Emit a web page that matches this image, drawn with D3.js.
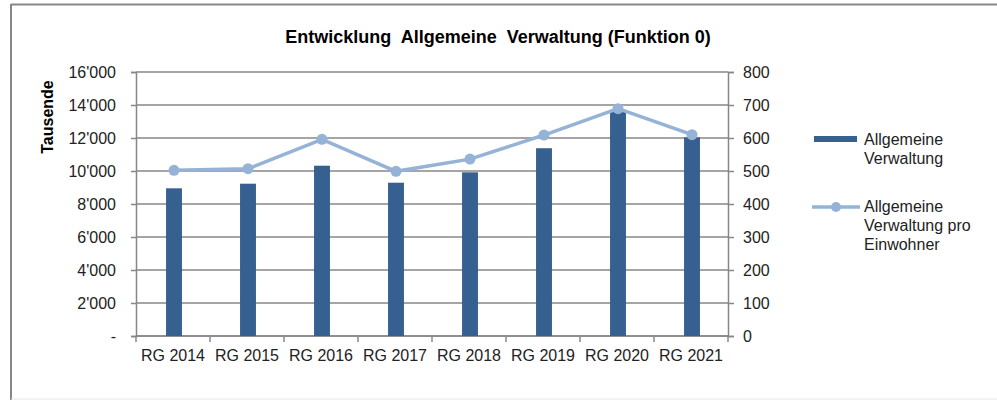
<!DOCTYPE html>
<html>
<head>
<meta charset="utf-8">
<script src="https://cdn.jsdelivr.net/npm/d3@7"></script>
<style>
  html, body { margin: 0; padding: 0; background: #fff; }
  svg { display: block; font-family: "Liberation Sans", Arial, sans-serif; }
</style>
</head>
<body>
<div id="chart"></div>
<script>
// data
var categories = ['RG 2014', 'RG 2015', 'RG 2016', 'RG 2017', 'RG 2018', 'RG 2019', 'RG 2020', 'RG 2021'];
var verwaltung = [8950, 9230, 10320, 9290, 9920, 11380, 13700, 12040];
var proEinwohner = [502, 507, 596, 499, 536, 609, 689, 610];
var leftTicks = [0, 2000, 4000, 6000, 8000, 10000, 12000, 14000, 16000];
var rightTicks = [0, 100, 200, 300, 400, 500, 600, 700, 800];
var legendLabels = [['Allgemeine', 'Verwaltung'], ['Allgemeine', 'Verwaltung pro', 'Einwohner']];

var W = 997, H = 400;
var margin = { top: 72, right: 269, bottom: 64, left: 136 };
var iw = W - margin.left - margin.right;
var ih = H - margin.top - margin.bottom;
var grey = '#878787';
var barColor = '#36608f';
var lineColor = '#95b3d7';

var svg = d3.select('#chart').append('svg').attr('width', W).attr('height', H);

// outer frame
svg.append('line').attr('x1', 11).attr('x2', W).attr('y1', 4.5).attr('y2', 4.5).attr('stroke', grey).attr('stroke-width', 2);
svg.append('line').attr('x1', 11).attr('x2', 11).attr('y1', 4).attr('y2', H).attr('stroke', grey).attr('stroke-width', 2);
svg.append('line').attr('x1', 11).attr('x2', W).attr('y1', 399).attr('y2', 399).attr('stroke', '#e4e4e4').attr('stroke-width', 1);

svg.append('text').attr('x', 498).attr('y', 43).attr('text-anchor', 'middle')
  .attr('font-size', 18).attr('font-weight', 'bold').attr('fill', '#000')
  .attr('xml:space', 'preserve').style('white-space', 'pre')
  .text('Entwicklung  Allgemeine  Verwaltung (Funktion 0)');

var g = svg.append('g').attr('transform', 'translate(' + margin.left + ',' + margin.top + ')');

var x = d3.scaleBand().domain(categories).range([0, iw]).padding(0);
var yL = d3.scaleLinear().domain([0, 16000]).range([ih, 0]);
var yR = d3.scaleLinear().domain([0, 800]).range([ih, 0]);

var locale = d3.formatLocale({ decimal: '.', thousands: "'", grouping: [3], currency: ['', ''] });
var fmt = locale.format(',');

// gridlines
g.selectAll('line.grid').data(leftTicks).enter().append('line')
  .attr('x1', 0).attr('x2', iw)
  .attr('y1', function (d) { return yL(d); }).attr('y2', function (d) { return yL(d); })
  .attr('stroke', grey).attr('stroke-width', 1.5);

// left + right axes
var axL = g.append('g').call(d3.axisLeft(yL).tickValues(leftTicks).tickSize(5).tickPadding(15)
  .tickFormat(function (d) { return d === 0 ? '-' : fmt(d); }));
var axR = g.append('g').attr('transform', 'translate(' + iw + ',0)')
  .call(d3.axisRight(yR).tickValues(rightTicks).tickSize(6).tickPadding(9));
[axL, axR].forEach(function (a) {
  a.select('.domain').attr('stroke', grey).attr('stroke-width', 1.5);
  a.selectAll('.tick line').attr('stroke', grey).attr('stroke-width', 1.5);
  a.selectAll('.tick text').attr('font-size', 16).attr('fill', '#222').attr('font-family', '"Liberation Sans", Arial, sans-serif');
});

// x axis: line, boundary ticks, labels at band centres
var bounds = categories.map(function (c) { return x(c); }).concat([iw]);
g.append('line').attr('x1', 0).attr('x2', iw).attr('y1', ih).attr('y2', ih).attr('stroke', grey).attr('stroke-width', 1.5);
g.selectAll('line.xtick').data(bounds).enter().append('line')
  .attr('x1', function (d) { return d; }).attr('x2', function (d) { return d; })
  .attr('y1', ih).attr('y2', ih + 6).attr('stroke', grey).attr('stroke-width', 1.5);
g.selectAll('text.xlab').data(categories).enter().append('text')
  .attr('x', function (d) { return x(d) + x.bandwidth() / 2; })
  .attr('y', ih + 25).attr('text-anchor', 'middle').attr('font-size', 16).attr('fill', '#222')
  .text(function (d) { return d; });

// y axis title
svg.append('text').attr('transform', 'translate(53,117) rotate(-90)').attr('text-anchor', 'middle')
  .attr('font-size', 16).attr('font-weight', 'bold').attr('fill', '#000').text('Tausende');

// bars
var bw = x.bandwidth() * 0.215;
g.selectAll('rect.bar').data(verwaltung).enter().append('rect')
  .attr('x', function (d, i) { return x(categories[i]) + x.bandwidth() / 2 - bw / 2 + 1; })
  .attr('y', function (d) { return yL(d); })
  .attr('width', bw)
  .attr('height', function (d) { return ih - yL(d); })
  .attr('fill', barColor);

// line + markers
var line = d3.line()
  .x(function (d, i) { return x(categories[i]) + x.bandwidth() / 2 + 1; })
  .y(function (d) { return yR(d); });
g.append('path').datum(proEinwohner).attr('d', line).attr('fill', 'none')
  .attr('stroke', lineColor).attr('stroke-width', 3.5);
g.selectAll('circle.pt').data(proEinwohner).enter().append('circle')
  .attr('cx', function (d, i) { return x(categories[i]) + x.bandwidth() / 2 + 1; })
  .attr('cy', function (d) { return yR(d); })
  .attr('r', 5.5).attr('fill', lineColor);

// legend
var lg = svg.append('g');
lg.append('rect').attr('x', 814).attr('y', 136).attr('width', 43).attr('height', 6).attr('fill', barColor);
lg.append('line').attr('x1', 812).attr('x2', 860).attr('y1', 207).attr('y2', 207).attr('stroke', lineColor).attr('stroke-width', 3.5);
lg.append('circle').attr('cx', 836).attr('cy', 207).attr('r', 5).attr('fill', lineColor);
var legY = [145, 212];
legendLabels.forEach(function (lines, k) {
  var t = lg.append('text').attr('x', 864).attr('y', legY[k]).attr('font-size', 16).attr('fill', '#222');
  lines.forEach(function (s, j) {
    t.append('tspan').attr('x', 864).attr('dy', j === 0 ? 0 : 18.8).text(s);
  });
});
</script>
</body>
</html>
